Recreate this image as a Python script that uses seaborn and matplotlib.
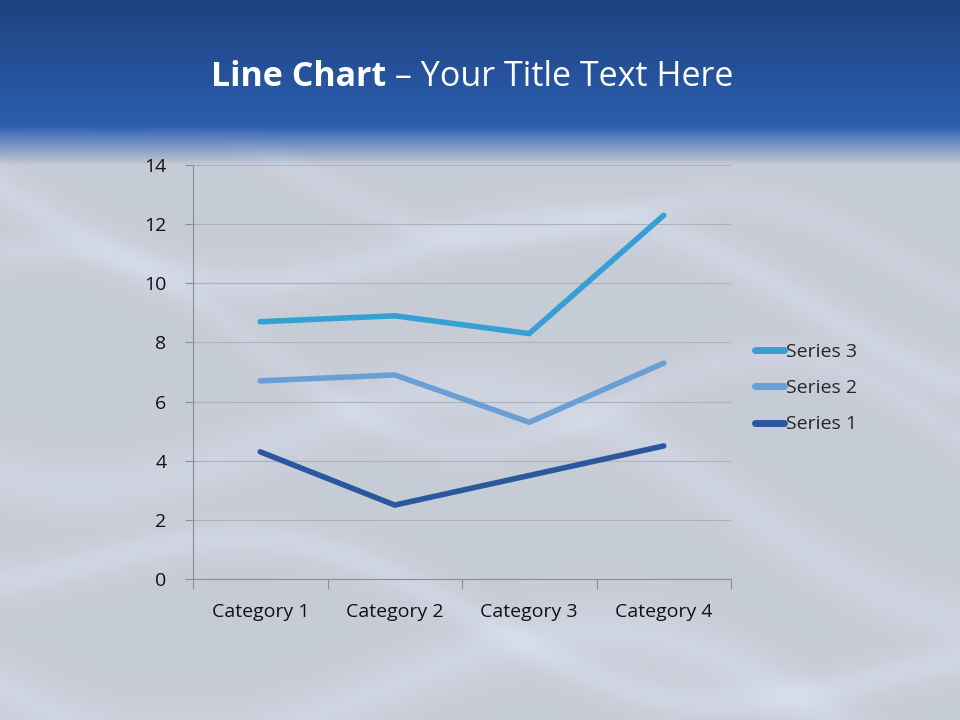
import matplotlib
matplotlib.use('Agg')
import matplotlib.pyplot as plt
import numpy as np
import pandas as pd
import seaborn as sns

# Data (stacked line chart, values per series before stacking)
categories = ['Category 1', 'Category 2', 'Category 3', 'Category 4']
series_1 = [4.3, 2.5, 3.5, 4.5]
series_2 = [2.4, 4.4, 1.8, 2.8]
series_3 = [2.0, 2.0, 3.0, 5.0]
series_names = ['Series 1', 'Series 2', 'Series 3']
y_ticks = [0, 2, 4, 6, 8, 10, 12, 14]

colors = {'Series 1': '#2b579e', 'Series 2': '#6a9fd6', 'Series 3': '#369fd3'}

sns.set_theme(style='white')
plt.rcParams['font.family'] = ['Open Sans', 'DejaVu Sans']

# stack the series like the original chart does
stacked = np.cumsum(np.array([series_1, series_2, series_3]), axis=0)
df = pd.DataFrame(stacked.T, columns=series_names)
df['category'] = categories
df = df.melt(id_vars='category', var_name='series', value_name='value')

fig = plt.figure(figsize=(9.6, 7.2), dpi=100)

# background: blue header band fading into a grey silk
H, W = 720, 960
yy, xx = np.mgrid[0:H, 0:W].astype(float)
base = np.array([0.78, 0.80, 0.84])
img = np.ones((H, W, 3)) * base
light = np.zeros((H, W))
for amp, off, per, ph, wid, strength in [
        (60, 260, 820, 0.0, 20, 0.30), (80, 470, 940, 1.3, 26, 0.28),
        (50, 620, 780, 2.4, 18, 0.32), (40, 200, 600, 3.1, 14, 0.22),
        (90, 700, 1000, 0.7, 28, 0.30), (70, 380, 720, 4.0, 16, 0.22)]:
    curve = off + amp * np.sin(2 * np.pi * xx / per + ph) + 0.15 * (xx - 480)
    light += strength * np.exp(-((yy - curve) / wid) ** 2)
light = np.clip(light, 0, 0.6)
silk_hi = np.array([0.88, 0.91, 0.98])
img = img * (1 - light[..., None]) + silk_hi * light[..., None]
top = np.array([0.12, 0.26, 0.50])
bot = np.array([0.17, 0.37, 0.69])
t = np.clip(yy / 128.0, 0, 1)[..., None]
header = top * (1 - t) + bot * t
fade = np.clip((yy - 125) / 40.0, 0, 1)[..., None]
img = header * (1 - fade) + img * fade
bg = fig.add_axes([0, 0, 1, 1], zorder=-1)
bg.imshow(img, aspect='auto', extent=[0, 1, 0, 1])
bg.axis('off')

# title: bold part then regular part
t1 = fig.text(211 / 960, 1 - 77 / 720, 'Line Chart', color='white', fontsize=24.5,
              fontweight='bold', va='center', ha='left')
fig.canvas.draw()
bb = t1.get_window_extent()
fig.text(bb.x1 / 960, 1 - 77 / 720, ' \u2013 Your Title Text Here', color='white',
         fontsize=24.5, va='center', ha='left')

ax = fig.add_axes([193 / 960, 1 - 579 / 720, (731 - 193) / 960, (579 - 165) / 720])
ax.patch.set_alpha(0)
sns.lineplot(data=df, x='category', y='value', hue='series',
             hue_order=['Series 3', 'Series 2', 'Series 1'], palette=colors,
             linewidth=4, sort=False, ax=ax, solid_capstyle='round')

ax.set_xlim(-0.5, 3.5)
ax.set_ylim(0, 14)
ax.set_yticks(y_ticks)
ax.set_xticks(range(len(categories)))
ax.set_xticklabels(categories)
ax.set_xticks(np.arange(-0.5, 4, 1), minor=True)
ax.tick_params(axis='x', which='major', length=0, pad=17, labelsize=14, colors='#111111')
ax.tick_params(axis='x', which='minor', length=7, width=0.8, color='#8a8e96', direction='out')
ax.tick_params(axis='y', length=6, width=0.8, direction='out', pad=13,
               labelsize=14, colors='#111111', left=True)
ax.yaxis.set_tick_params(color='#8a8e96')
ax.xaxis.set_tick_params(which='minor', bottom=True)
ax.grid(axis='y', color='#aeb2b9', linewidth=0.8)
ax.set_axisbelow(True)
for s in ['top', 'right']:
    ax.spines[s].set_visible(False)
for s in ['left', 'bottom']:
    ax.spines[s].set_color('#8a8e96')
    ax.spines[s].set_linewidth(0.8)
ax.set_xlabel('')
ax.set_ylabel('')

leg = ax.legend(loc='center left', bbox_to_anchor=(745 / 960, 1 - 388 / 720),
                bbox_transform=fig.transFigure, frameon=False, fontsize=14,
                handlelength=1.5, handletextpad=0.1, labelspacing=0.95, borderpad=0)
for line in leg.get_lines():
    line.set_linewidth(5)
    line.set_solid_capstyle('round')

fig.savefig('out.png', dpi=100)
